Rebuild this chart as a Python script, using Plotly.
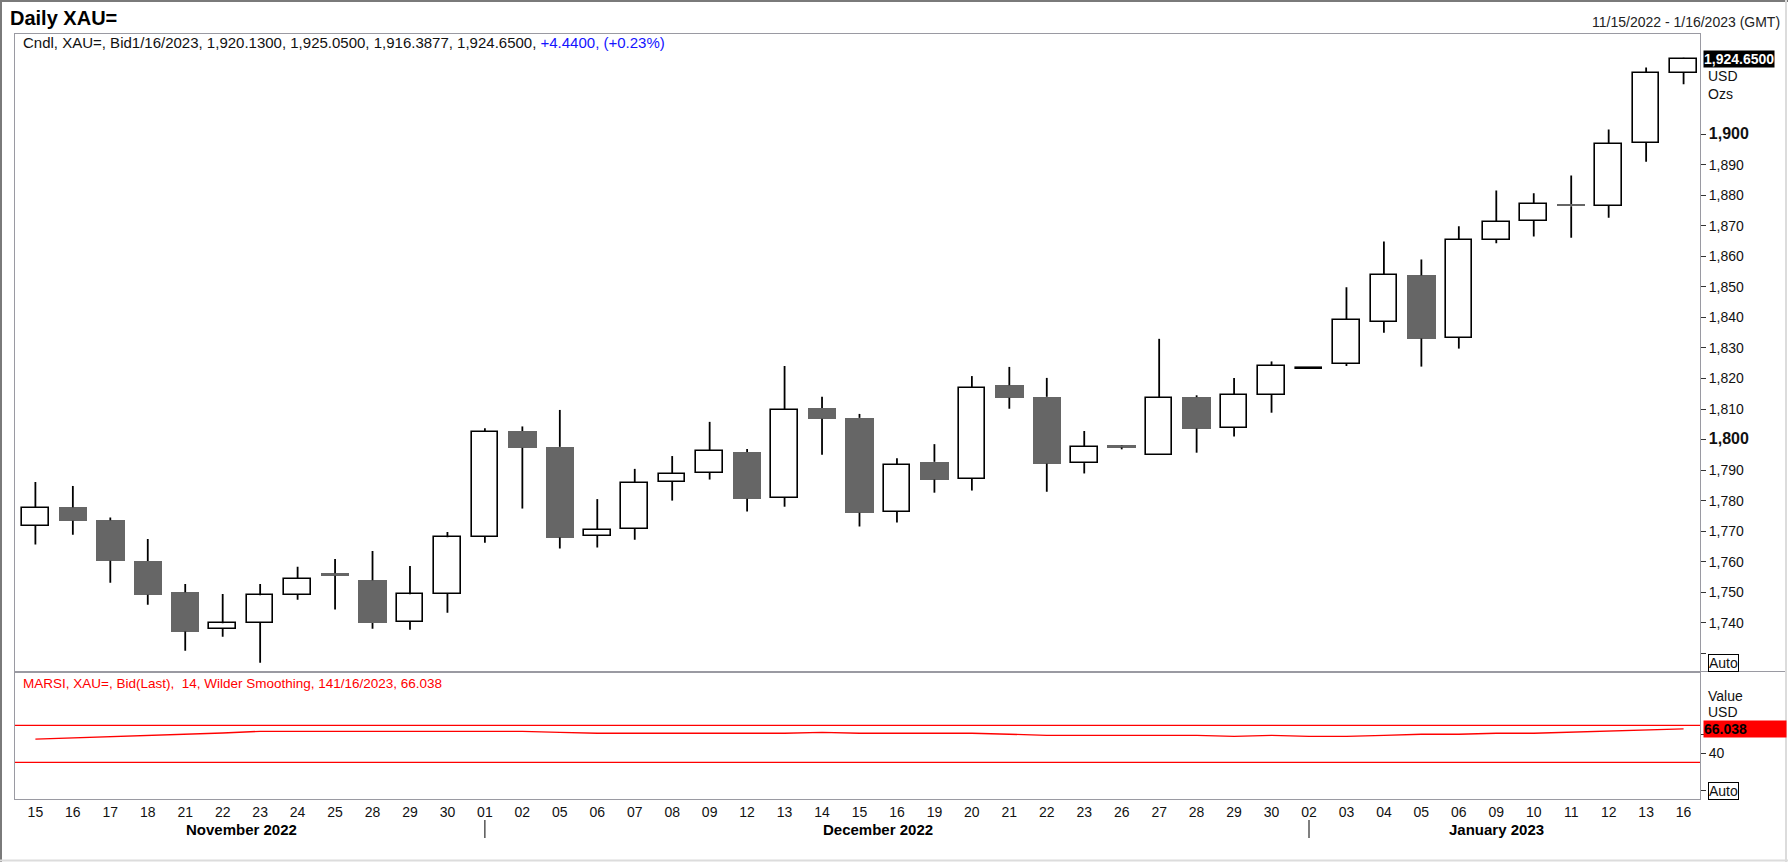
import plotly.graph_objects as go

# ---------------- data ----------------
days = ["15", "16", "17", "18", "21", "22", "23", "24", "25", "28", "29", "30",
        "01", "02", "05", "06", "07", "08", "09", "12", "13", "14", "15", "16", "19", "20",
        "21", "22", "23", "26", "27", "28", "29", "30",
        "02", "03", "04", "05", "06", "09", "10", "11", "12", "13", "16"]
months = ["November 2022"] * 12 + ["December 2022"] * 22 + ["January 2023"] * 11

opens = [1771.7, 1777.8, 1773.6, 1760.2, 1750.0, 1737.9, 1739.9, 1749.1, 1756.2, 1753.9,
         1740.2, 1749.5, 1768.2, 1802.8, 1797.6, 1768.4, 1770.7, 1786.1, 1789.1, 1795.9,
         1780.9, 1810.3, 1807.1, 1776.3, 1792.7, 1787.2, 1817.8, 1814.0, 1792.3, 1798.1,
         1794.9, 1813.9, 1803.8, 1814.7, 1823.2, 1824.8, 1838.5, 1853.8, 1833.4, 1865.4,
         1871.6, 1877.2, 1876.6, 1897.3, 1920.13]
highs = [1786.1, 1784.8, 1774.5, 1767.4, 1752.7, 1749.4, 1752.7, 1758.3, 1760.9, 1763.5,
         1758.6, 1769.7, 1803.7, 1804.3, 1809.7, 1780.5, 1790.4, 1794.6, 1805.8, 1796.9,
         1824.1, 1814.0, 1808.4, 1793.9, 1798.5, 1820.8, 1823.8, 1820.2, 1802.8, 1798.2,
         1833.0, 1814.5, 1820.2, 1825.6, 1823.5, 1849.9, 1864.9, 1859.0, 1869.9, 1881.6,
         1880.7, 1886.5, 1901.6, 1921.9, 1925.05]
lows = [1765.6, 1768.8, 1753.1, 1745.9, 1730.8, 1735.4, 1726.9, 1747.5, 1744.3, 1738.0,
        1737.7, 1743.3, 1766.2, 1777.4, 1764.3, 1764.6, 1767.2, 1780.0, 1786.9, 1776.4,
        1778.0, 1795.0, 1771.5, 1772.8, 1782.6, 1783.3, 1810.1, 1782.9, 1788.9, 1796.8,
        1794.9, 1795.7, 1801.0, 1808.8, 1823.1, 1824.1, 1835.0, 1823.9, 1829.8, 1864.3,
        1866.5, 1866.1, 1872.7, 1891.0, 1916.3877]
closes = [1777.7, 1773.4, 1760.3, 1749.2, 1737.1, 1739.8, 1749.0, 1754.4, 1755.4, 1739.9,
          1749.3, 1768.0, 1802.6, 1797.3, 1767.9, 1770.5, 1785.9, 1788.8, 1796.4, 1780.6,
          1809.8, 1806.8, 1776.0, 1791.8, 1786.9, 1817.0, 1813.7, 1792.1, 1797.7, 1797.4,
          1813.7, 1803.6, 1814.7, 1824.2, 1823.4, 1839.3, 1854.0, 1833.1, 1865.4, 1871.4,
          1877.3, 1876.4, 1896.9, 1920.21, 1924.65]
rsi = [55.1, 56.3, 58.0, 59.3, 60.4, 61.7, 63.5, 63.5, 63.5, 63.5, 63.5, 63.5, 63.5, 63.5,
       62.4, 61.4, 61.4, 61.4, 61.4, 61.4, 61.4, 62.4, 61.4, 61.4, 61.4, 61.4, 60.3, 59.2,
       59.2, 59.2, 59.2, 59.2, 58.1, 59.2, 58.1, 58.1, 59.2, 60.3, 60.3, 61.4, 61.4, 62.5,
       63.5, 64.9, 66.038]
rsi_levels = [70, 30]
price_ticks = list(range(1730, 1901, 10))
rsi_ticks = [0, 40, 60]
rsi_ticklabels = ["", "40", ""]

# ---------------- helpers ----------------
W, H = 1788, 862
ML, MR, MT, MB = 15, 88, 34, 63
PW, PH = W - ML - MR, H - MT - MB


def px(X, Y):
    return (X - ML) / PW, (H - MB - Y) / PH


FONT = "Arial, Liberation Sans, sans-serif"
idx = list(range(len(days)))
GRAY = "#666666"
FRAME = "#9a9aa2"

up = [c >= o for o, c in zip(opens, closes)]
body_base = [min(o, c) for o, c in zip(opens, closes)]
body_h = [abs(c - o) for o, c in zip(opens, closes)]
body_col = ["white" if u else GRAY for u in up]
line_col = ["black" if u else GRAY for u in up]
line_w = [1.6 if u else 0 for u in up]
bar_w = [0.71 if u else 0.76 for u in up]

wx, wy = [], []
for i in idx:
    top = max(opens[i], closes[i])
    bot = min(opens[i], closes[i])
    wx += [i, i, None, i, i, None]
    wy += [top, highs[i], None, lows[i], bot, None]

fig = go.Figure()
fig.add_trace(go.Bar(x=idx, y=body_h, base=body_base, width=bar_w,
                     marker=dict(color=body_col, line=dict(color=line_col, width=line_w)),
                     xaxis="x", yaxis="y", hoverinfo="skip", showlegend=False))
fig.add_trace(go.Scatter(x=wx, y=wy, mode="lines", line=dict(color="black", width=1.8),
                         xaxis="x", yaxis="y", hoverinfo="skip", showlegend=False))
fig.add_trace(go.Scatter(x=idx, y=rsi, mode="lines", line=dict(color="#ff0000", width=1.3),
                         xaxis="x2", yaxis="y2", hoverinfo="skip", showlegend=False))

split = (H - MB - 671.5) / PH
xr = [(ML - 35.4) / 37.47, (1700.5 - 35.4) / 37.47]
yr1 = [1800 - (671.5 - 439.6) / 3.052, 1900 + (134.3 - MT) / 3.052]
yr2 = [70 - (799 - 725.3) / 0.925, 70 + (725.3 - 671.5) / 0.925]


def fmt_tick(v):
    s = f"{v:,}"
    if v == 1730:
        return ""
    if v % 100 == 0:
        return f"<b><span style='font-size:16px'>{s}</span></b>"
    return s


axis_common = dict(showline=True, mirror=True, linecolor=FRAME, linewidth=1,
                   showgrid=False, zeroline=False, fixedrange=True)

fig.update_layout(
    width=W, height=H,
    margin=dict(l=ML, r=MR, t=MT, b=MB),
    paper_bgcolor="white", plot_bgcolor="white",
    barmode="overlay", bargap=0, hovermode=False,
    font=dict(family=FONT, size=14, color="#111111"),
    xaxis=dict(domain=[0, 1], anchor="y", range=xr, showticklabels=False, ticks="", **axis_common),
    yaxis=dict(domain=[split, 1], anchor="x", range=yr1, side="right",
               tickvals=price_ticks, ticktext=[fmt_tick(v) for v in price_ticks],
               ticks="outside", ticklen=5, tickcolor="#333333",
               tickfont=dict(size=14, color="#111111", family=FONT), **axis_common),
    xaxis2=dict(domain=[0, 1], anchor="y2", range=xr, matches="x",
                tickvals=idx, ticktext=days, ticks="",
                tickfont=dict(size=14, color="#111111", family=FONT), **axis_common),
    yaxis2=dict(domain=[0, split], anchor="x2", range=yr2, side="right",
                tickvals=rsi_ticks, ticktext=rsi_ticklabels,
                ticks="outside", ticklen=5, tickcolor="#333333",
                tickfont=dict(size=14, color="#111111", family=FONT), **axis_common),
)

shapes = []
for lv in rsi_levels:
    shapes.append(dict(type="line", xref="x2 domain", yref="y2", x0=0, x1=1, y0=lv, y1=lv,
                       line=dict(color="#ff0000", width=1.2)))
# separator extending under the value-label column
x0p, yp = px(ML, 671.5)
x1p, _ = px(1786, 671.5)
shapes.append(dict(type="line", xref="paper", yref="paper", x0=x0p, x1=x1p, y0=yp, y1=yp,
                   line=dict(color=FRAME, width=1)))
# month separators
for m in sorted(set(months), key=months.index)[1:]:
    first = months.index(m)
    _, ya = px(0, 820)
    _, yb = px(0, 838)
    shapes.append(dict(type="line", xref="x2", yref="paper", x0=first, x1=first, y0=ya, y1=yb,
                       line=dict(color="black", width=1)))
# outer window border
a, b = px(0, 1)
c, d = px(W, 1)
shapes.append(dict(type="line", xref="paper", yref="paper", x0=a, x1=c, y0=b, y1=d,
                   line=dict(color="#7a7a7a", width=2)))
a, b = px(1, 0)
c, d = px(1, H)
shapes.append(dict(type="line", xref="paper", yref="paper", x0=a, x1=c, y0=b, y1=d,
                   line=dict(color="#7a7a7a", width=2)))
a, b = px(W - 2, 0)
c, d = px(W - 2, H)
shapes.append(dict(type="line", xref="paper", yref="paper", x0=a, x1=c, y0=b, y1=d,
                   line=dict(color="#dcdcdc", width=2)))
a, b = px(0, H - 1.5)
c, d = px(W, H - 1.5)
shapes.append(dict(type="line", xref="paper", yref="paper", x0=a, x1=c, y0=b, y1=d,
                   line=dict(color="#dcdcdc", width=2)))
fig.update_layout(shapes=shapes)

ann = []


def text_at(X, Y, s, size=14, color="#111111", anchor="left", bold=False, **kw):
    x, y = px(X, Y)
    ann.append(dict(xref="paper", yref="paper", x=x, y=y, text=(f"<b>{s}</b>" if bold else s),
                    showarrow=False, xanchor=anchor, yanchor="middle",
                    font=dict(family=FONT, size=size, color=color), **kw))


text_at(8, 18, "Daily XAU=", size=20, color="black", bold=True)
text_at(1782, 22, "11/15/2022 - 1/16/2023 (GMT)", size=14, color="#222222", anchor="right")

chg = closes[-1] - closes[-2]
pct = chg / closes[-2] * 100
info = (f"Cndl, XAU=, Bid1/16/2023, {opens[-1]:,.4f}, {highs[-1]:,.4f}, {lows[-1]:,.4f}, "
        f"{closes[-1]:,.4f}, <span style='color:#1414ff'>{chg:+.4f}, ({pct:+.2f}%)</span>")
text_at(21, 43, info, size=15, color="#111111")
text_at(21, 683, f"MARSI, XAU=, Bid(Last),&nbsp; 14, Wilder Smoothing, 141/16/2023, {rsi[-1]:.3f}",
        size=13.5, color="#ff0000")

# last price tag
xp, _ = px(1703, 0)
ann.append(dict(xref="paper", yref="y", x=xp, y=closes[-1], text=f"<b>{closes[-1]:,.4f}</b>",
                showarrow=False, xanchor="left", yanchor="middle", bgcolor="black", borderpad=0,
                font=dict(family=FONT, size=14, color="white")))
text_at(1706, 76, "USD")
text_at(1706, 94, "Ozs")
text_at(1706, 696, "Value")
text_at(1706, 712, "USD")
ann.append(dict(xref="paper", yref="y2", x=xp, y=rsi[-1], text=f"<b>{rsi[-1]:.3f}</b>",
                showarrow=False, xanchor="left", yanchor="middle", bgcolor="#ff0000", borderpad=0,
                width=82, align="left", font=dict(family=FONT, size=14, color="black")))
text_at(1708, 663, "Auto", bordercolor="black", borderwidth=1, borderpad=0)
text_at(1708, 791, "Auto", bordercolor="black", borderwidth=1, borderpad=0)

# month labels
_, ym = px(0, 829)
for m in sorted(set(months), key=months.index):
    ids = [i for i in idx if months[i] == m]
    ann.append(dict(xref="x2", yref="paper", x=sum(ids) / len(ids), y=ym, text=f"<b>{m}</b>",
                    showarrow=False, xanchor="center", yanchor="middle",
                    font=dict(family=FONT, size=15, color="black")))

fig.update_layout(annotations=ann)

fig.write_html("out.html", config={"displayModeBar": False},
               post_script="document.body.style.margin='0';document.body.style.overflow='hidden';")
